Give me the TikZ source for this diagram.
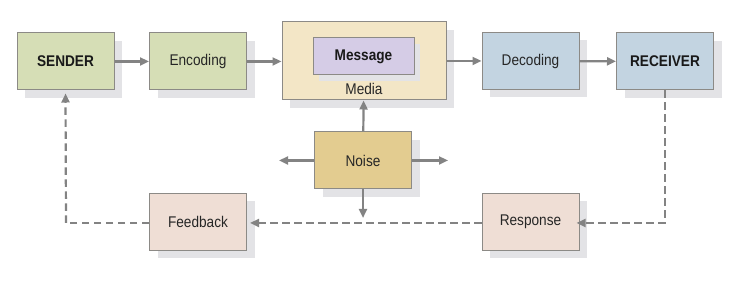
\documentclass[tikz,border=0pt]{standalone}
\usepackage{fontspec}
\setmainfont{Liberation Sans}
\newfontfamily\condf[FakeStretch=0.88]{Liberation Sans}
\usetikzlibrary{arrows.meta}
\definecolor{grn}{HTML}{D6DEB6}
\definecolor{med}{HTML}{F3E6C6}
\definecolor{msg}{HTML}{D5CCE6}
\definecolor{noi}{HTML}{E3CC90}
\definecolor{blu}{HTML}{C3D4E1}
\definecolor{pnk}{HTML}{EFDED5}
\definecolor{brd}{HTML}{8C8A86}
\definecolor{shd}{HTML}{E3E3E6}
\definecolor{arr}{HTML}{838383}
\tikzset{
  x=1pt,y=1pt,
  txt/.style={font=\condf\fontsize{15.5}{17}\selectfont,text=black!85},
  btxt/.style={font=\condf\fontsize{15.5}{17}\selectfont\bfseries,text=black!90},
  box/.style={draw=brd,line width=1pt,minimum width=97pt,minimum height=57pt,inner sep=0pt,txt,
    preaction={fill=shd,draw=none,transform canvas={shift={(8pt,-8pt)}}}},
  con/.style={draw=arr,line width=2.2pt,-{Triangle[length=9pt,width=8pt]}},
  dcon/.style={con,dash pattern=on 7.5pt off 4.5pt},
}
\begin{document}
\begin{tikzpicture}
\useasboundingbox (0,0) rectangle (742,288);
\node[box,fill=grn,btxt] (sender) at (65.5,226.5) {SENDER};
\node[box,fill=grn] (enc) at (198,226.5) {Encoding};
\node[box,fill=med,minimum width=164pt,minimum height=78pt] (media) at (364,227) {};
\node[draw=brd,line width=1pt,fill=msg,minimum width=101pt,minimum height=37pt,inner sep=0pt,btxt,
  preaction={fill=shd,draw=none,transform canvas={shift={(6pt,-6pt)}}}] (msg) at (363.5,231.5) {Message};
\node[txt] (medlbl) at (364,199) {Media};
\node[box,fill=blu] (dec) at (530.5,227) {Decoding};
\node[box,fill=blu,btxt] (rec) at (665,226.5) {RECEIVER};
\node[box,fill=noi] (noise) at (363,127.5) {Noise};
\node[box,fill=pnk] (fb) at (198,66) {Feedback};
\node[box,fill=pnk] (resp) at (530.5,66) {Response};
\coordinate (nl) at (279,127.5);
\coordinate (nr) at (448,127.5);
\coordinate (nd) at (363,70);
\coordinate (rc) at (665,65);
\coordinate (sc) at (66,65);
\draw[con] (sender) -- (enc);
\draw[con] (enc) -- (media.west|-enc);
\draw[con] (media.east|-dec) -- (dec);
\draw[con] (dec) -- (rec);
\draw[con] (noise) -- (media);
\draw[con] (noise) -- (nl);
\draw[con] (noise) -- (nr);
\draw[con] (noise) -- (nd);
\draw[dcon] (rec.south) -- (rc) -- ([xshift=-3pt]resp.east|-rc);
\draw[dcon] (resp.west|-rc) -- ([xshift=3pt]fb.east|-rc);
\draw[dash pattern=on 7.5pt off 4.5pt,draw=arr,line width=2.2pt] (fb.west|-sc) -- (sc);
\draw[dcon] (sc) -- ([yshift=-3pt]sender.south);
\end{tikzpicture}
\end{document}
